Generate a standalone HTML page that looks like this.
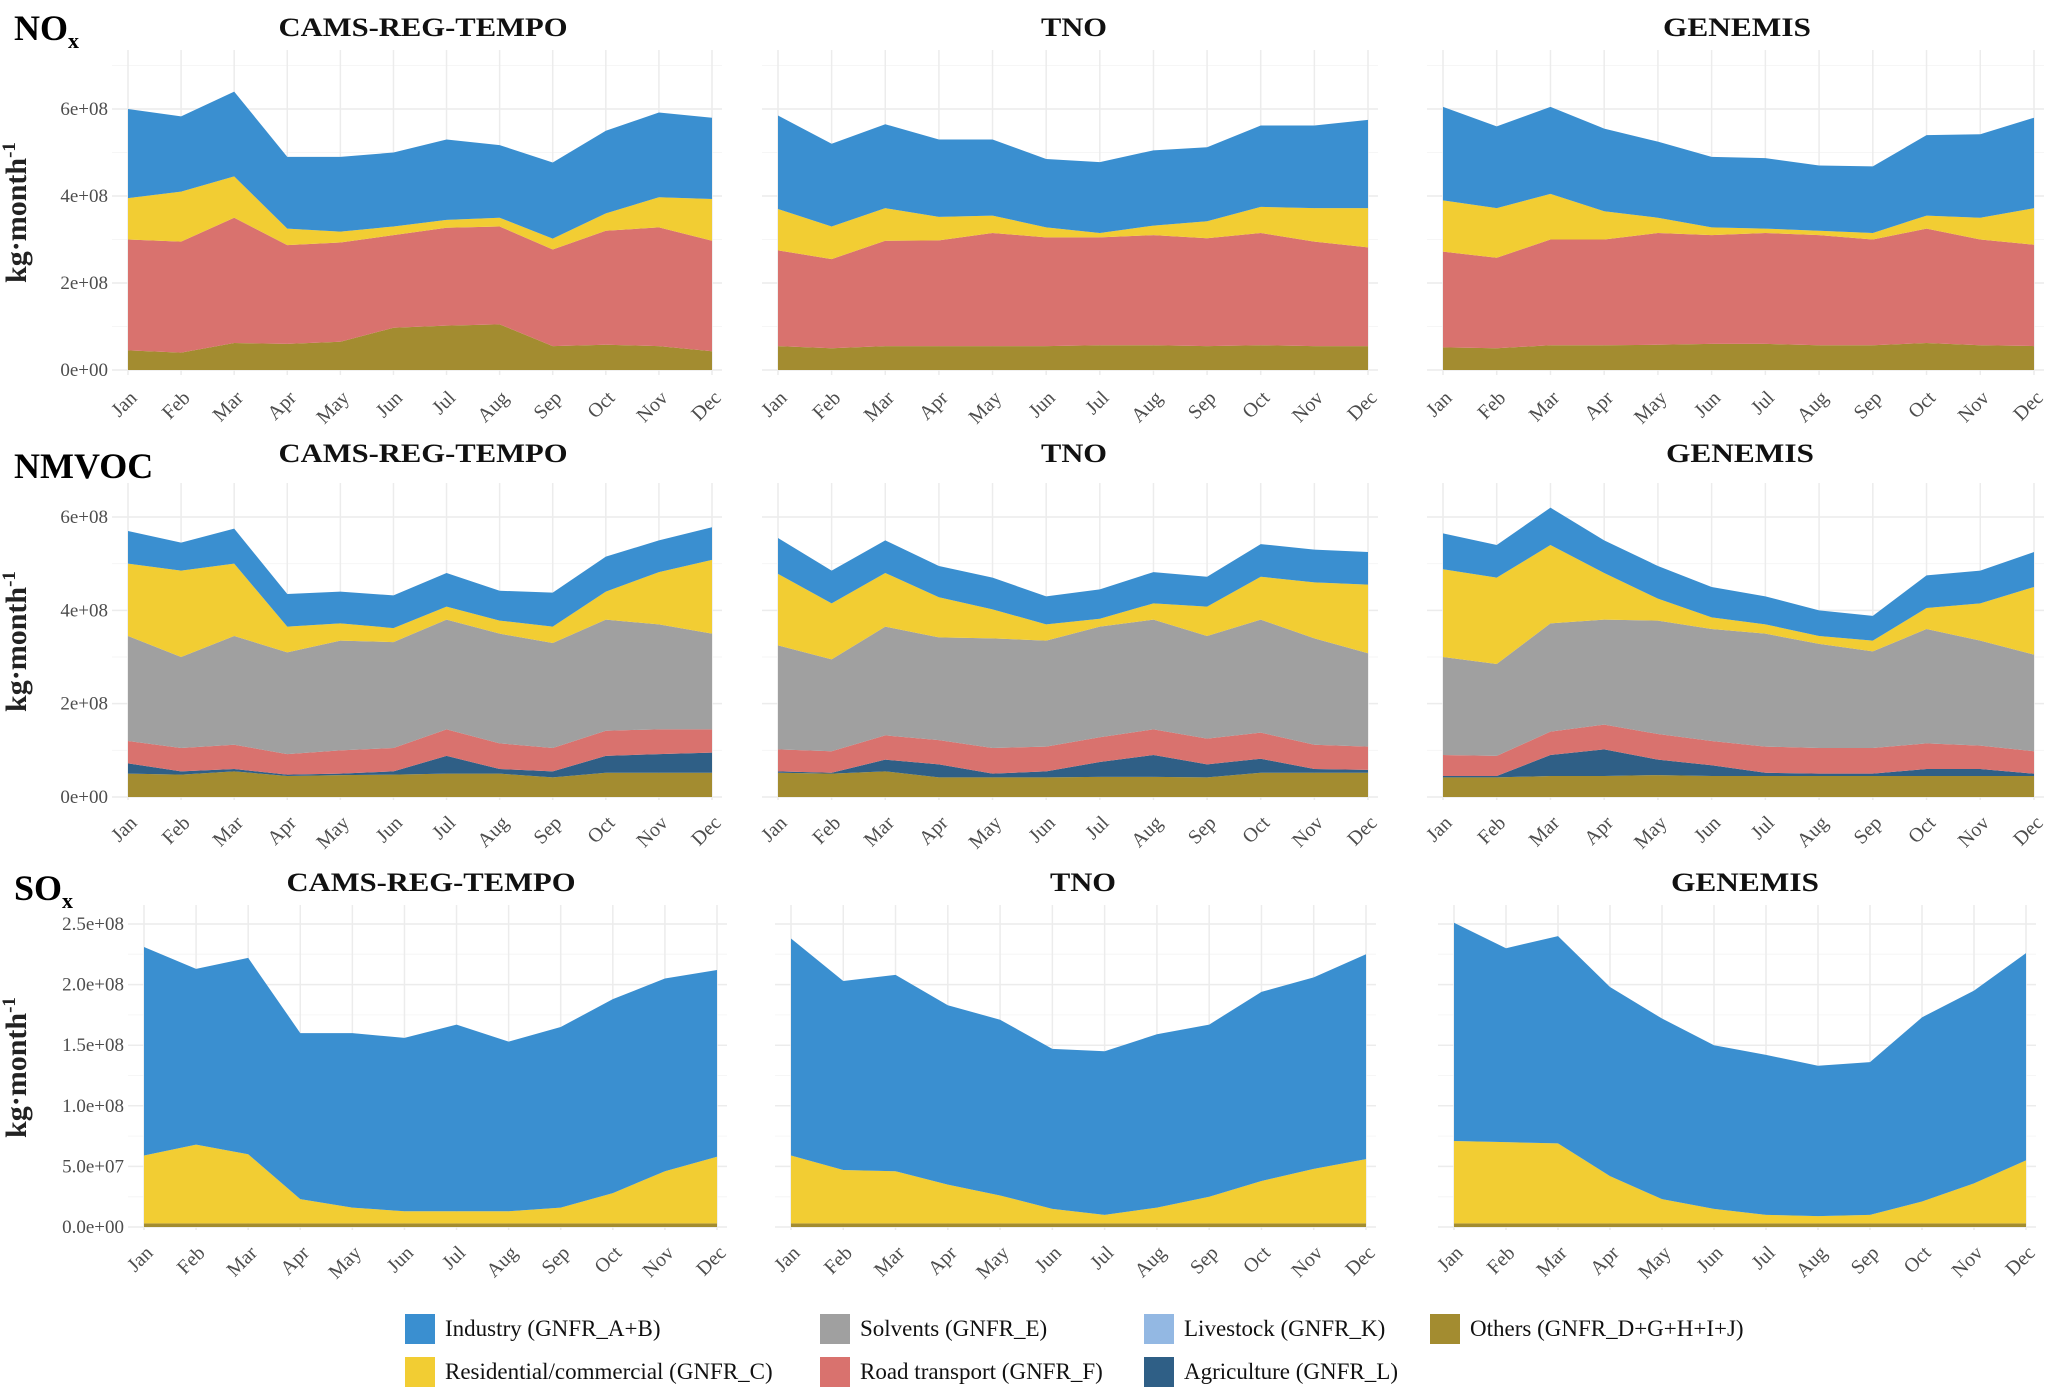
<!DOCTYPE html>
<html><head><meta charset="utf-8"><style>
html,body{margin:0;padding:0;background:#fff;}
svg{display:block;font-family:"Liberation Serif",serif;}
</style></head><body>
<svg id="c" width="2067" height="1390" viewBox="0 0 2067 1390" xmlns="http://www.w3.org/2000/svg"></svg>
<script>
const months = ["Jan","Feb","Mar","Apr","May","Jun","Jul","Aug","Sep","Oct","Nov","Dec"];
const sectorNames = ["Industry (GNFR_A+B)","Solvents (GNFR_E)","Livestock (GNFR_K)","Others (GNFR_D+G+H+I+J)","Residential/commercial (GNFR_C)","Road transport (GNFR_F)","Agriculture (GNFR_L)"];
const colors = {ind:"#3a8fd0",res:"#f2cd33",solv:"#a0a0a0",road:"#d9726e",live:"#93b8e3",agri:"#2f5f86",oth:"#a38c30"};
// NOx (1e8 kg/month)
const noxCamsOth=[.45,.4,.62,.6,.65,.97,1.02,1.05,.55,.58,.55,.43];
const noxCamsRoad=[2.55,2.55,2.88,2.27,2.28,2.13,2.25,2.25,2.22,2.62,2.73,2.54];
const noxCamsRes=[0.95,1.15,0.95,0.38,0.25,0.2,0.18,0.2,0.25,0.4,0.69,0.96];
const noxCamsInd=[2.05,1.73,1.95,1.65,1.72,1.7,1.85,1.67,1.75,1.9,1.95,1.87];
const noxTnoOth=[.55,.5,.55,.55,.55,.55,.57,.57,.55,.57,.55,.55];
const noxTnoRoad=[2.2,2.05,2.42,2.43,2.6,2.5,2.48,2.53,2.48,2.58,2.4,2.27];
const noxTnoRes=[0.95,0.75,0.75,0.54,0.4,0.23,0.1,0.22,0.39,0.6,0.77,0.9];
const noxTnoInd=[2.15,1.9,1.93,1.78,1.75,1.57,1.63,1.73,1.7,1.87,1.9,2.03];
const noxGenOth=[.52,.5,.57,.57,.58,.6,.6,.57,.57,.62,.57,.55];
const noxGenRoad=[2.2,2.08,2.43,2.43,2.57,2.5,2.55,2.53,2.43,2.63,2.43,2.33];
const noxGenRes=[1.18,1.14,1.05,0.65,0.35,0.18,0.1,0.1,0.15,0.3,0.5,0.84];
const noxGenInd=[2.15,1.88,2.0,1.9,1.75,1.62,1.62,1.5,1.53,1.85,1.92,2.08];
// NMVOC (1e8)
const vocCamsOth=[.5,.48,.55,.45,.47,.48,.5,.5,.42,.52,.52,.52];
const vocCamsAgri=[.22,.07,.05,.03,.03,.07,.38,.1,.13,.36,.4,.43];
const vocCamsRoad=[.48,.5,.52,.44,.5,.5,.57,.55,.5,.54,.53,.5];
const vocCamsSolv=[2.25,1.95,2.33,2.18,2.35,2.27,2.35,2.35,2.25,2.38,2.25,2.05];
const vocCamsRes=[1.55,1.85,1.55,.55,.37,.3,.28,.28,.35,.6,1.12,1.58];
const vocCamsInd=[.7,.6,.75,.7,.68,.7,.72,.64,.73,.75,.68,.7];
const vocTnoOth=[.52,.5,.55,.42,.42,.42,.43,.43,.42,.52,.52,.52];
const vocTnoAgri=[.03,.02,.25,.28,.08,.13,.32,.47,.28,.3,.08,.06];
const vocTnoRoad=[.47,.46,.52,.52,.55,.53,.53,.55,.55,.56,.52,.5];
const vocTnoSolv=[2.23,1.97,2.33,2.2,2.35,2.27,2.37,2.35,2.2,2.42,2.28,2.0];
const vocTnoRes=[1.53,1.2,1.15,.86,.62,.35,.17,.35,.63,.92,1.2,1.47];
const vocTnoInd=[.77,.7,.7,.67,.68,.6,.63,.67,.64,.7,.7,.7];
const vocGenOth=[.42,.42,.45,.45,.47,.45,.45,.45,.45,.45,.45,.45];
const vocGenAgri=[.03,.03,.45,.57,.33,.23,.07,.05,.05,.15,.15,.05];
const vocGenRoad=[.45,.43,.5,.53,.55,.52,.56,.55,.55,.55,.5,.48];
const vocGenSolv=[2.1,1.97,2.32,2.25,2.43,2.4,2.42,2.23,2.07,2.45,2.25,2.07];
const vocGenRes=[1.88,1.85,1.68,1.0,.47,.25,.2,.17,.23,.45,.8,1.45];
const vocGenInd=[.77,.7,.8,.7,.7,.65,.6,.55,.53,.7,.7,.75];
// SOx (1e7)
const soxCamsOth=[.3,.3,.3,.3,.3,.3,.3,.3,.3,.3,.3,.3];
const soxCamsRes=[5.6,6.5,5.7,2.0,1.3,1.0,1.0,1.0,1.3,2.5,4.3,5.5];
const soxCamsInd=[17.2,14.5,16.2,13.7,14.4,14.3,15.4,14.0,14.9,16.0,15.9,15.4];
const soxTnoOth=[.3,.3,.3,.3,.3,.3,.3,.3,.3,.3,.3,.3];
const soxTnoRes=[5.6,4.4,4.3,3.2,2.3,1.2,0.7,1.3,2.2,3.5,4.5,5.3];
const soxTnoInd=[17.9,15.6,16.2,14.8,14.5,13.2,13.5,14.3,14.2,15.6,15.8,16.9];
const soxGenOth=[.3,.3,.3,.3,.3,.3,.3,.3,.3,.3,.3,.3];
const soxGenRes=[6.8,6.7,6.6,3.9,2.0,1.2,0.7,0.6,0.7,1.8,3.3,5.2];
const soxGenInd=[18.0,16.0,17.1,15.6,14.9,13.5,13.2,12.4,12.6,15.2,15.9,17.1];
const noxTicks=["0e+00","2e+08","4e+08","6e+08"];
const vocTicks=["0e+00","2e+08","4e+08","6e+08"];
const soxTicks=["0.0e+00","5.0e+07","1.0e+08","1.5e+08","2.0e+08","2.5e+08"];
const datasets=["CAMS-REG-TEMPO","TNO","GENEMIS"];

const NS="http://www.w3.org/2000/svg";
const svg=document.getElementById('c');
function mk(tag,attrs,parent){const e=document.createElementNS(NS,tag);for(const k in attrs)e.setAttribute(k,attrs[k]);(parent||svg).appendChild(e);return e;}

const rows=[
 {key:"nox",y0:370,yTop:109,vmax:6,tickStep:2,ticks:noxTicks,gridTop:50,gridBot:375,titleY:36,label:["NO","x"],labelY:40,
  panels:[[128,712],[778,1368],[1443,2034]],titleX:[423,1074,1737],
  series:[[["oth",noxCamsOth],["road",noxCamsRoad],["res",noxCamsRes],["ind",noxCamsInd]],
          [["oth",noxTnoOth],["road",noxTnoRoad],["res",noxTnoRes],["ind",noxTnoInd]],
          [["oth",noxGenOth],["road",noxGenRoad],["res",noxGenRes],["ind",noxGenInd]]]},
 {key:"nmvoc",y0:797,yTop:517,vmax:6,tickStep:2,ticks:vocTicks,gridTop:483,gridBot:800,titleY:462,label:["NMVOC",""],labelY:478,
  panels:[[128,712],[778,1368],[1443,2034]],titleX:[423,1074,1740],
  series:[[["oth",vocCamsOth],["agri",vocCamsAgri],["road",vocCamsRoad],["solv",vocCamsSolv],["res",vocCamsRes],["ind",vocCamsInd]],
          [["oth",vocTnoOth],["agri",vocTnoAgri],["road",vocTnoRoad],["solv",vocTnoSolv],["res",vocTnoRes],["ind",vocTnoInd]],
          [["oth",vocGenOth],["agri",vocGenAgri],["road",vocGenRoad],["solv",vocGenSolv],["res",vocGenRes],["ind",vocGenInd]]]},
 {key:"sox",y0:1227,yTop:924,vmax:25,tickStep:5,ticks:soxTicks,gridTop:905,gridBot:1230,titleY:891,label:["SO","x"],labelY:900,
  panels:[[144,717],[791,1366],[1454,2026]],titleX:[431,1083,1745],
  series:[[["oth",soxCamsOth],["res",soxCamsRes],["ind",soxCamsInd]],
          [["oth",soxTnoOth],["res",soxTnoRes],["ind",soxTnoInd]],
          [["oth",soxGenOth],["res",soxGenRes],["ind",soxGenInd]]]}
];
const titleLen={"CAMS-REG-TEMPO":289,"TNO":66,"GENEMIS":148};

rows.forEach((r,ri)=>{
  const ys=v=>r.y0-(v/r.vmax)*(r.y0-r.yTop);
  const lab=mk('text',{x:14,y:r.labelY,'font-size':36,'font-weight':'bold',fill:'#000'});
  
  
  lab.textContent=r.label[0];
  if(r.label[1]){const s=mk('tspan',{'font-size':22,dy:8},lab);s.textContent=r.label[1];}
  const cy=(r.gridTop+r.gridBot)/2;
  const yt=mk('text',{x:0,y:0,transform:`translate(26,${cy}) rotate(-90)`,'text-anchor':'middle','font-size':30,'font-weight':'bold',fill:'#222'});
  
  
  yt.textContent='kg·month';
  const sup=mk('tspan',{'font-size':19,dy:-11},yt);sup.textContent='-1';
  r.panels.forEach((p,pi)=>{
    const g=mk('g',{});
    
    
    const xs=i=>p[0]+i*(p[1]-p[0])/11;
    const gl=p[0]-16, gr=p[1]+10;
    for(let t=0;t<r.ticks.length;t++){const y=ys(t*r.tickStep);
      const l=mk('line',{x1:gl,x2:gr,y1:y,y2:y,stroke:'#ececec','stroke-width':1.5},g);
      
      const ym=ys((t+0.5)*r.tickStep);
      if(ym>r.gridTop){mk('line',{x1:gl,x2:gr,y1:ym,y2:ym,stroke:'#f6f6f6','stroke-width':1},g);}
    }
    for(let i=0;i<12;i++){const l=mk('line',{x1:xs(i),x2:xs(i),y1:r.gridTop,y2:r.gridBot,stroke:'#ececec','stroke-width':1.5},g);
      }
    let base=new Array(12).fill(0);
    r.series[pi].forEach(([k,vals])=>{
      const top=base.map((b,i)=>b+vals[i]);
      let d='M'+top.map((v,i)=>xs(i)+','+ys(v)).join('L');
      for(let i=11;i>=0;i--)d+='L'+xs(i)+','+ys(base[i]);
      const a=mk('path',{d:d+'Z',fill:colors[k]},g);
      
      
      base=top;
    });
    if(pi===0){r.ticks.forEach((t,ti)=>{const tx=mk('text',{x:gl-4,y:ys(ti*r.tickStep)+6,'text-anchor':'end','font-size':19,fill:'#4d4d4d'},g);
      tx.textContent=t;});}
    months.forEach((m,i)=>{const x=xs(i)+10,y=r.gridBot+24;
      const tx=mk('text',{x:0,y:0,transform:`translate(${x},${y}) rotate(-45)`,'text-anchor':'end','font-size':20,fill:'#4d4d4d'},g);
      tx.textContent=m;});
    const tt=mk('text',{x:r.titleX[pi],y:r.titleY,'text-anchor':'middle','font-size':26,'font-weight':'bold',fill:'#111',textLength:titleLen[datasets[pi]],lengthAdjust:'spacingAndGlyphs'},g);
    tt.textContent=datasets[pi];
  });
});
const legItems=[[405,1329,"ind",0],[820,1329,"solv",1],[1144,1329,"live",2],[1430,1329,"oth",3],[405,1372,"res",4],[820,1372,"road",5],[1144,1372,"agri",6]];
legItems.forEach(([x,y,k,ni])=>{
  const g=mk('g',{});
  
  
  mk('rect',{x:x,y:y-15,width:30,height:30,fill:colors[k]},g);
  const t=mk('text',{x:x+40,y:y+7,'font-size':23,fill:'#111'},g);
  t.textContent=sectorNames[ni];
});
</script>
</body></html>
